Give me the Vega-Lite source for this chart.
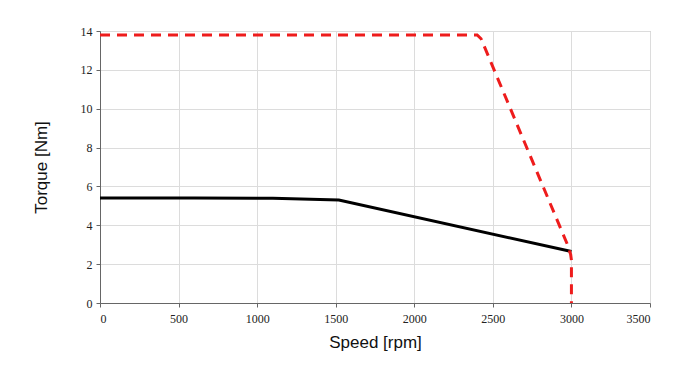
{
  "$schema": "https://vega.github.io/schema/vega-lite/v6.json",
  "width": 550,
  "height": 272,
  "autosize": "none",
  "padding": {"left": 100, "top": 31, "right": 50, "bottom": 72},
  "background": "white",
  "config": {
    "view": {"stroke": "#b0b0b0", "strokeWidth": 1},
    "axis": {
      "labelFont": "serif",
      "labelFontSize": 12,
      "labelColor": "#222",
      "titleFont": "Liberation Sans, Arial, sans-serif",
      "titleFontSize": 17,
      "titleFontWeight": "normal",
      "titleColor": "#111",
      "gridColor": "#dcdcdc",
      "gridWidth": 1,
      "domainColor": "#666",
      "tickColor": "#666",
      "tickSize": 4
    }
  },
  "data": {
    "values": [
      {"series": "limit", "i": 0, "speed": 0, "torque": 13.8},
      {"series": "limit", "i": 1, "speed": 2400, "torque": 13.8},
      {"series": "limit", "i": 2, "speed": 2425, "torque": 13.6},
      {"series": "limit", "i": 3, "speed": 2975, "torque": 3.0},
      {"series": "limit", "i": 4, "speed": 2995, "torque": 2.5},
      {"series": "limit", "i": 5, "speed": 3000, "torque": 2.2},
      {"series": "limit", "i": 6, "speed": 3000, "torque": 0},
      {"series": "rated", "i": 0, "speed": 0, "torque": 5.4},
      {"series": "rated", "i": 1, "speed": 600, "torque": 5.41},
      {"series": "rated", "i": 2, "speed": 1100, "torque": 5.39},
      {"series": "rated", "i": 3, "speed": 1520, "torque": 5.3},
      {"series": "rated", "i": 4, "speed": 3000, "torque": 2.65}
    ]
  },
  "encoding": {
    "x": {
      "field": "speed", "type": "quantitative",
      "scale": {"domain": [0, 3500], "nice": false},
      "axis": {"values": [0,500,1000,1500,2000,2500,3000,3500], "format": "d", "title": "Speed [rpm]", "titlePadding": 10, "labelPadding": 6}
    },
    "y": {
      "field": "torque", "type": "quantitative",
      "scale": {"domain": [0, 14], "nice": false},
      "axis": {"values": [0,2,4,6,8,10,12,14], "format": "d", "title": "Torque [Nm]", "titlePadding": 30, "labelPadding": 4}
    },
    "order": {"field": "i", "type": "quantitative"}
  },
  "layer": [
    {
      "transform": [{"filter": "datum.series === 'rated'"}],
      "mark": {"type": "line", "color": "#000000", "strokeWidth": 3}
    },
    {
      "transform": [{"filter": "datum.series === 'limit'"}],
      "mark": {"type": "line", "color": "#ee1c1c", "strokeWidth": 3, "strokeDash": [10, 7]}
    }
  ]
}
